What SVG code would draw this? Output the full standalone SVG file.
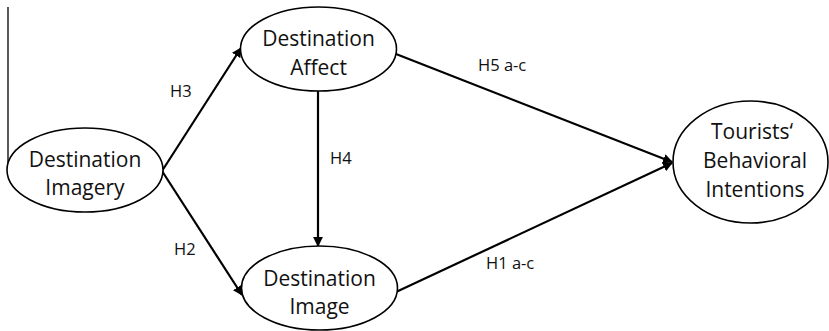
<svg xmlns="http://www.w3.org/2000/svg" width="829" height="331" viewBox="0 0 829 331">
<style>
.node ellipse{fill:#fff;stroke:#000;stroke-width:1.6}
.node text{font-family:"Open Sans","Liberation Sans",sans-serif;font-size:21px;fill:#111;text-anchor:middle}
.conn line{stroke:#000;stroke-width:2.2}
.lbl{font-family:"Open Sans","Liberation Sans",sans-serif;font-size:16.5px;fill:#111}
</style>
<defs>
<marker id="ah" viewBox="0 0 10 10" refX="9" refY="5" markerWidth="4.5" markerHeight="4.5" orient="auto" markerUnits="strokeWidth">
<path d="M0,0 L10,5 L0,10 z" fill="#000"/>
</marker>
</defs>
<g id="connectors" class="conn">
<line x1="8" y1="7" x2="8" y2="166" style="stroke-width:1.3"/>
<line x1="162" y1="171" x2="241" y2="48" marker-end="url(#ah)"/>
<line x1="162" y1="171" x2="242" y2="295" marker-end="url(#ah)"/>
<line x1="318" y1="91" x2="318" y2="246" marker-end="url(#ah)"/>
<line x1="396" y1="54" x2="672" y2="162" marker-end="url(#ah)"/>
<line x1="396" y1="292" x2="672" y2="163" marker-end="url(#ah)"/>
<text class="lbl" x="170" y="97">H3</text>
<text class="lbl" x="174" y="255">H2</text>
<text class="lbl" x="330" y="164">H4</text>
<text class="lbl" x="478" y="71">H5 a-c</text>
<text class="lbl" x="486" y="269">H1 a-c</text>
</g>
<g id="imagery" class="node">
<ellipse cx="85" cy="170" rx="78" ry="42"/>
<text x="85" y="167">Destination</text>
<text x="85" y="195">Imagery</text>
</g>
<g id="affect" class="node">
<ellipse cx="318.5" cy="49" rx="78" ry="42"/>
<text x="318.5" y="46">Destination</text>
<text x="318.5" y="75">Affect</text>
</g>
<g id="image" class="node">
<ellipse cx="319.5" cy="288" rx="78" ry="42"/>
<text x="319.5" y="286">Destination</text>
<text x="319.5" y="314">Image</text>
</g>
<g id="intentions" class="node">
<ellipse cx="750.5" cy="162" rx="77.5" ry="61"/>
<text x="752" y="139">Tourists‘</text>
<text x="755" y="168">Behavioral</text>
<text x="755" y="197">Intentions</text>
</g>
</svg>
